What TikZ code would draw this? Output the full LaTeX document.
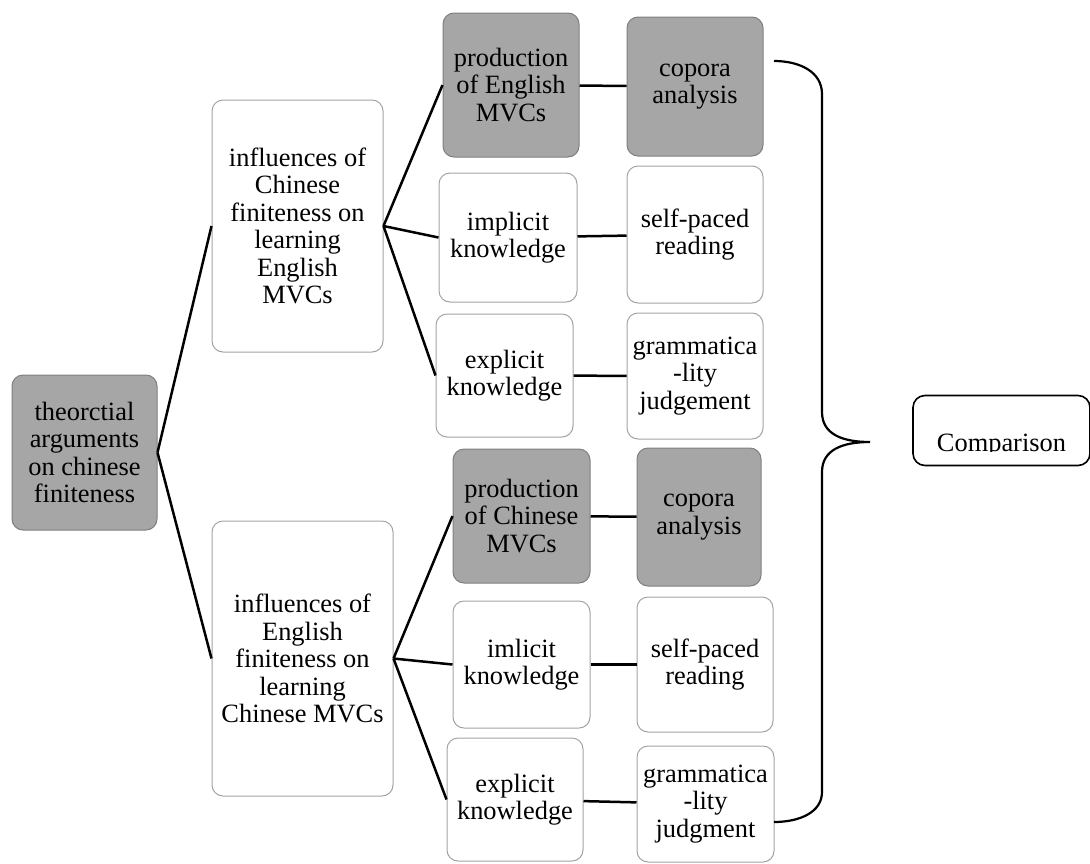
\documentclass[tikz,border=0pt]{standalone}
\usepackage{fontspec}
\setmainfont{Liberation Serif}
\usepackage{tikz}
\usetikzlibrary{positioning}
\definecolor{boxgray}{HTML}{A6A6A6}
\definecolor{edgedark}{HTML}{7F7F7F}
\definecolor{edgelight}{HTML}{A3A3A3}

\begin{document}
\begin{tikzpicture}[x=1pt, y=-1pt,
  every node/.style={font=\fontsize{26.4}{27.5}\selectfont, align=center},
  graybox/.style={draw=edgedark, line width=1pt, rounded corners=11pt, fill=boxgray, inner sep=2pt},
  whitebox/.style={draw=edgelight, line width=1pt, rounded corners=11pt, fill=white, inner sep=2pt},
  cmpbox/.style={draw, line width=1.6pt, rounded corners=12pt, minimum width=177pt, minimum height=70pt},
  link/.style={line width=2.5pt},
  brace/.style={line width=2.2pt}
]
\useasboundingbox (0,0) rectangle (1090,863);
% root and middle level
\node[graybox, minimum width=145pt, minimum height=155pt] (root) at (84.5,452.5) {theorctial\\arguments\\on chinese\\finiteness};
\node[whitebox, minimum width=171pt, minimum height=252pt] (mid1) at (297.5,226) {influences of\\Chinese\\finiteness on\\learning\\English\\MVCs};
\node[whitebox, minimum width=181pt, minimum height=275pt] (mid2) at (302.5,658.5) {influences of\\English\\finiteness on\\learning\\Chinese MVCs};
% upper branch
\node[graybox, minimum width=136pt, minimum height=144pt] (prodE) at (511,85) {production\\of English\\MVCs};
\node[whitebox, minimum width=138pt, minimum height=129pt] (implE) at (508,237.5) {implicit\\knowledge};
\node[whitebox, minimum width=137pt, minimum height=123pt] (explE) at (504.5,375.5) {explicit\\knowledge};
\node[graybox, minimum width=136pt, minimum height=139pt] (copE) at (695,86.5) {copora\\analysis};
\node[whitebox, minimum width=136pt, minimum height=137pt] (selfE) at (695,234.5) {self-paced\\reading};
\node[whitebox, minimum width=136pt, minimum height=126pt] (gramE) at (695,376) {grammatica\\-lity\\judgement};
% lower branch
\node[graybox, minimum width=137pt, minimum height=134pt] (prodC) at (521.5,516) {production\\of Chinese\\MVCs};
\node[whitebox, minimum width=137pt, minimum height=127pt] (implC) at (521.5,664.5) {imlicit\\knowledge};
\node[whitebox, minimum width=136pt, minimum height=123pt] (explC) at (515,799.5) {explicit\\knowledge};
\node[graybox, minimum width=124pt, minimum height=138pt] (copC) at (699,517) {copora\\analysis};
\node[whitebox, minimum width=136pt, minimum height=135pt] (selfC) at (705,664.5) {self-paced\\reading};
\node[whitebox, minimum width=137pt, minimum height=116pt] (gramC) at (705.5,804) {grammatica\\-lity\\judgment};
% comparison
\node[cmpbox] (cmp) at (1001.5,430.5) {};
\begin{scope}
  \clip (cmp.north west) rectangle ([yshift=-21pt]cmp.east);
  \node[anchor=base] (cmplabel) at ([yshift=-21pt]cmp.center) {Comparison};
\end{scope}

\draw[link] (root.east) -- (mid1.west);
\draw[link] (root.east) -- (mid2.west);
\foreach \n in {prodE,implE,explE} \draw[link] (mid1.east) -- (\n.west);
\foreach \n in {prodC,implC,explC} \draw[link] (mid2.east) -- (\n.west);
\draw[link] (prodE) -- (copE);
\draw[link] (implE) -- (selfE);
\draw[link] (explE) -- (gramE);
\draw[link] (prodC) -- (copC);
\draw[link] (implC) -- (selfC);
\draw[link] (explC) -- (gramC);

% brace
\draw[brace] (774,61) .. controls (800,61) and (822,72) .. (822,94) -- (822,412)
  .. controls (822,434) and (842,442) .. (870,442)
  .. controls (842,442) and (822,450) .. (822,472) -- (822,792)
  .. controls (822,812) and (800,822) .. (774,822);
\end{tikzpicture}
\end{document}
